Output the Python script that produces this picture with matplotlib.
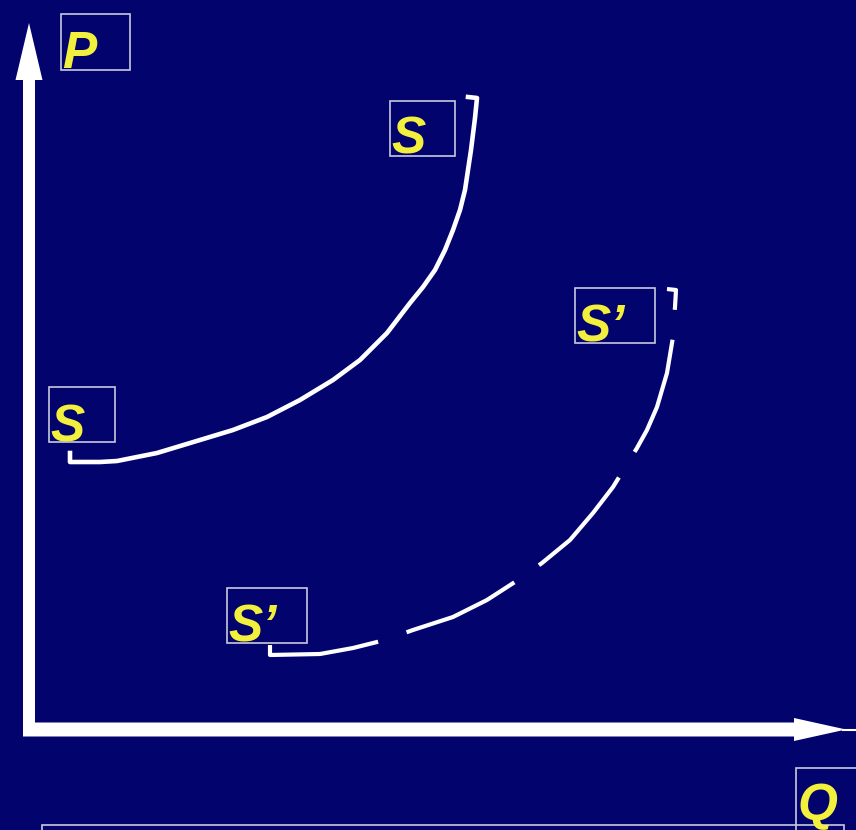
import matplotlib
matplotlib.use("Agg")
import matplotlib.pyplot as plt
from matplotlib.patches import Rectangle

plt.rcParams['lines.scale_dashes'] = False

navy = '#03036e'
yellow = '#f2f03c'
edge = '#c8c8dc'

# supply curve S (quantity, price)
s_q = [42, 42, 72, 89, 129, 172, 205, 239, 272, 305, 332, 359, 382, 395, 407, 417,
       425, 432, 437, 440, 443, 447, 449, 440]
s_p = [276, 267, 267, 268, 276, 289, 299, 312, 329, 349, 369, 396, 426, 442, 459, 479,
       499, 519, 539, 559, 579, 611, 631, 632]

# shifted supply curve S'
s2_q = [242, 242, 292, 325, 357, 385, 425, 459, 490, 514, 542, 565, 585, 609, 619, 629,
        639, 645, 647, 648, 639]
s2_p = [84, 74, 75, 81, 89, 99, 112, 129, 149, 166, 189, 216, 242, 281, 299, 322,
        356, 392, 422, 439, 440]

labels = ['P', 'S', 'S', "S\u2019", "S\u2019", 'Q']

fig = plt.figure(figsize=(8.56, 8.30), dpi=100)
fig.patch.set_facecolor(navy)
ax = fig.add_axes([0, 0, 1, 1])
ax.set_facecolor(navy)
ax.set_xlim(-28, 828)
ax.set_ylim(-101, 729)
ax.axis('off')

# axes as thick white arrows
ax.arrow(1, -6, 0, 712, width=12, head_width=27, head_length=57,
         length_includes_head=True, fc='white', ec='none', zorder=3)
ax.arrow(-5, -0.5, 823, 0, width=14, head_width=23, head_length=52,
         length_includes_head=True, fc='white', ec='none', zorder=3)
ax.plot([815, 830], [-0.5, -0.5], color='white', lw=1.5, zorder=3)

# curves
ax.plot(s_q, s_p, color='white', lw=3.3, solid_joinstyle='round', zorder=2)
ax.plot(s2_q, s2_p, color='white', lw=3.0, linestyle=(0, (86, 21.6)),
        dash_joinstyle='round', zorder=2)

# label boxes: (left, top, right, bottom) in slide pixels, and text baseline
boxes = [(61, 14, 130, 70), (390, 101, 455, 156), (49, 387, 115, 442),
         (575, 288, 655, 343), (227, 588, 307, 643), (796, 768, 880, 860)]
baselines = [68, 154, 441, 341, 641, 820]
for lab, (l, t, r, b), base in zip(labels, boxes, baselines):
    ax.add_patch(Rectangle((l - 28, 729 - b), r - l, b - t, fill=False,
                           ec=edge, lw=1.2, zorder=4, clip_on=False))
    ax.text(l - 28 + 1, 729 - base, lab, color=yellow, fontsize=37,
            fontweight='bold', fontstyle='italic', family='Liberation Sans',
            ha='left', va='baseline', zorder=5)

# frame at the very bottom, mostly cut off
ax.add_patch(Rectangle((42 - 28, 729 - 850), 802, 25, fill=False,
                       ec=edge, lw=1.2, zorder=4, clip_on=False))

fig.savefig('out.png', dpi=100, facecolor=navy)
